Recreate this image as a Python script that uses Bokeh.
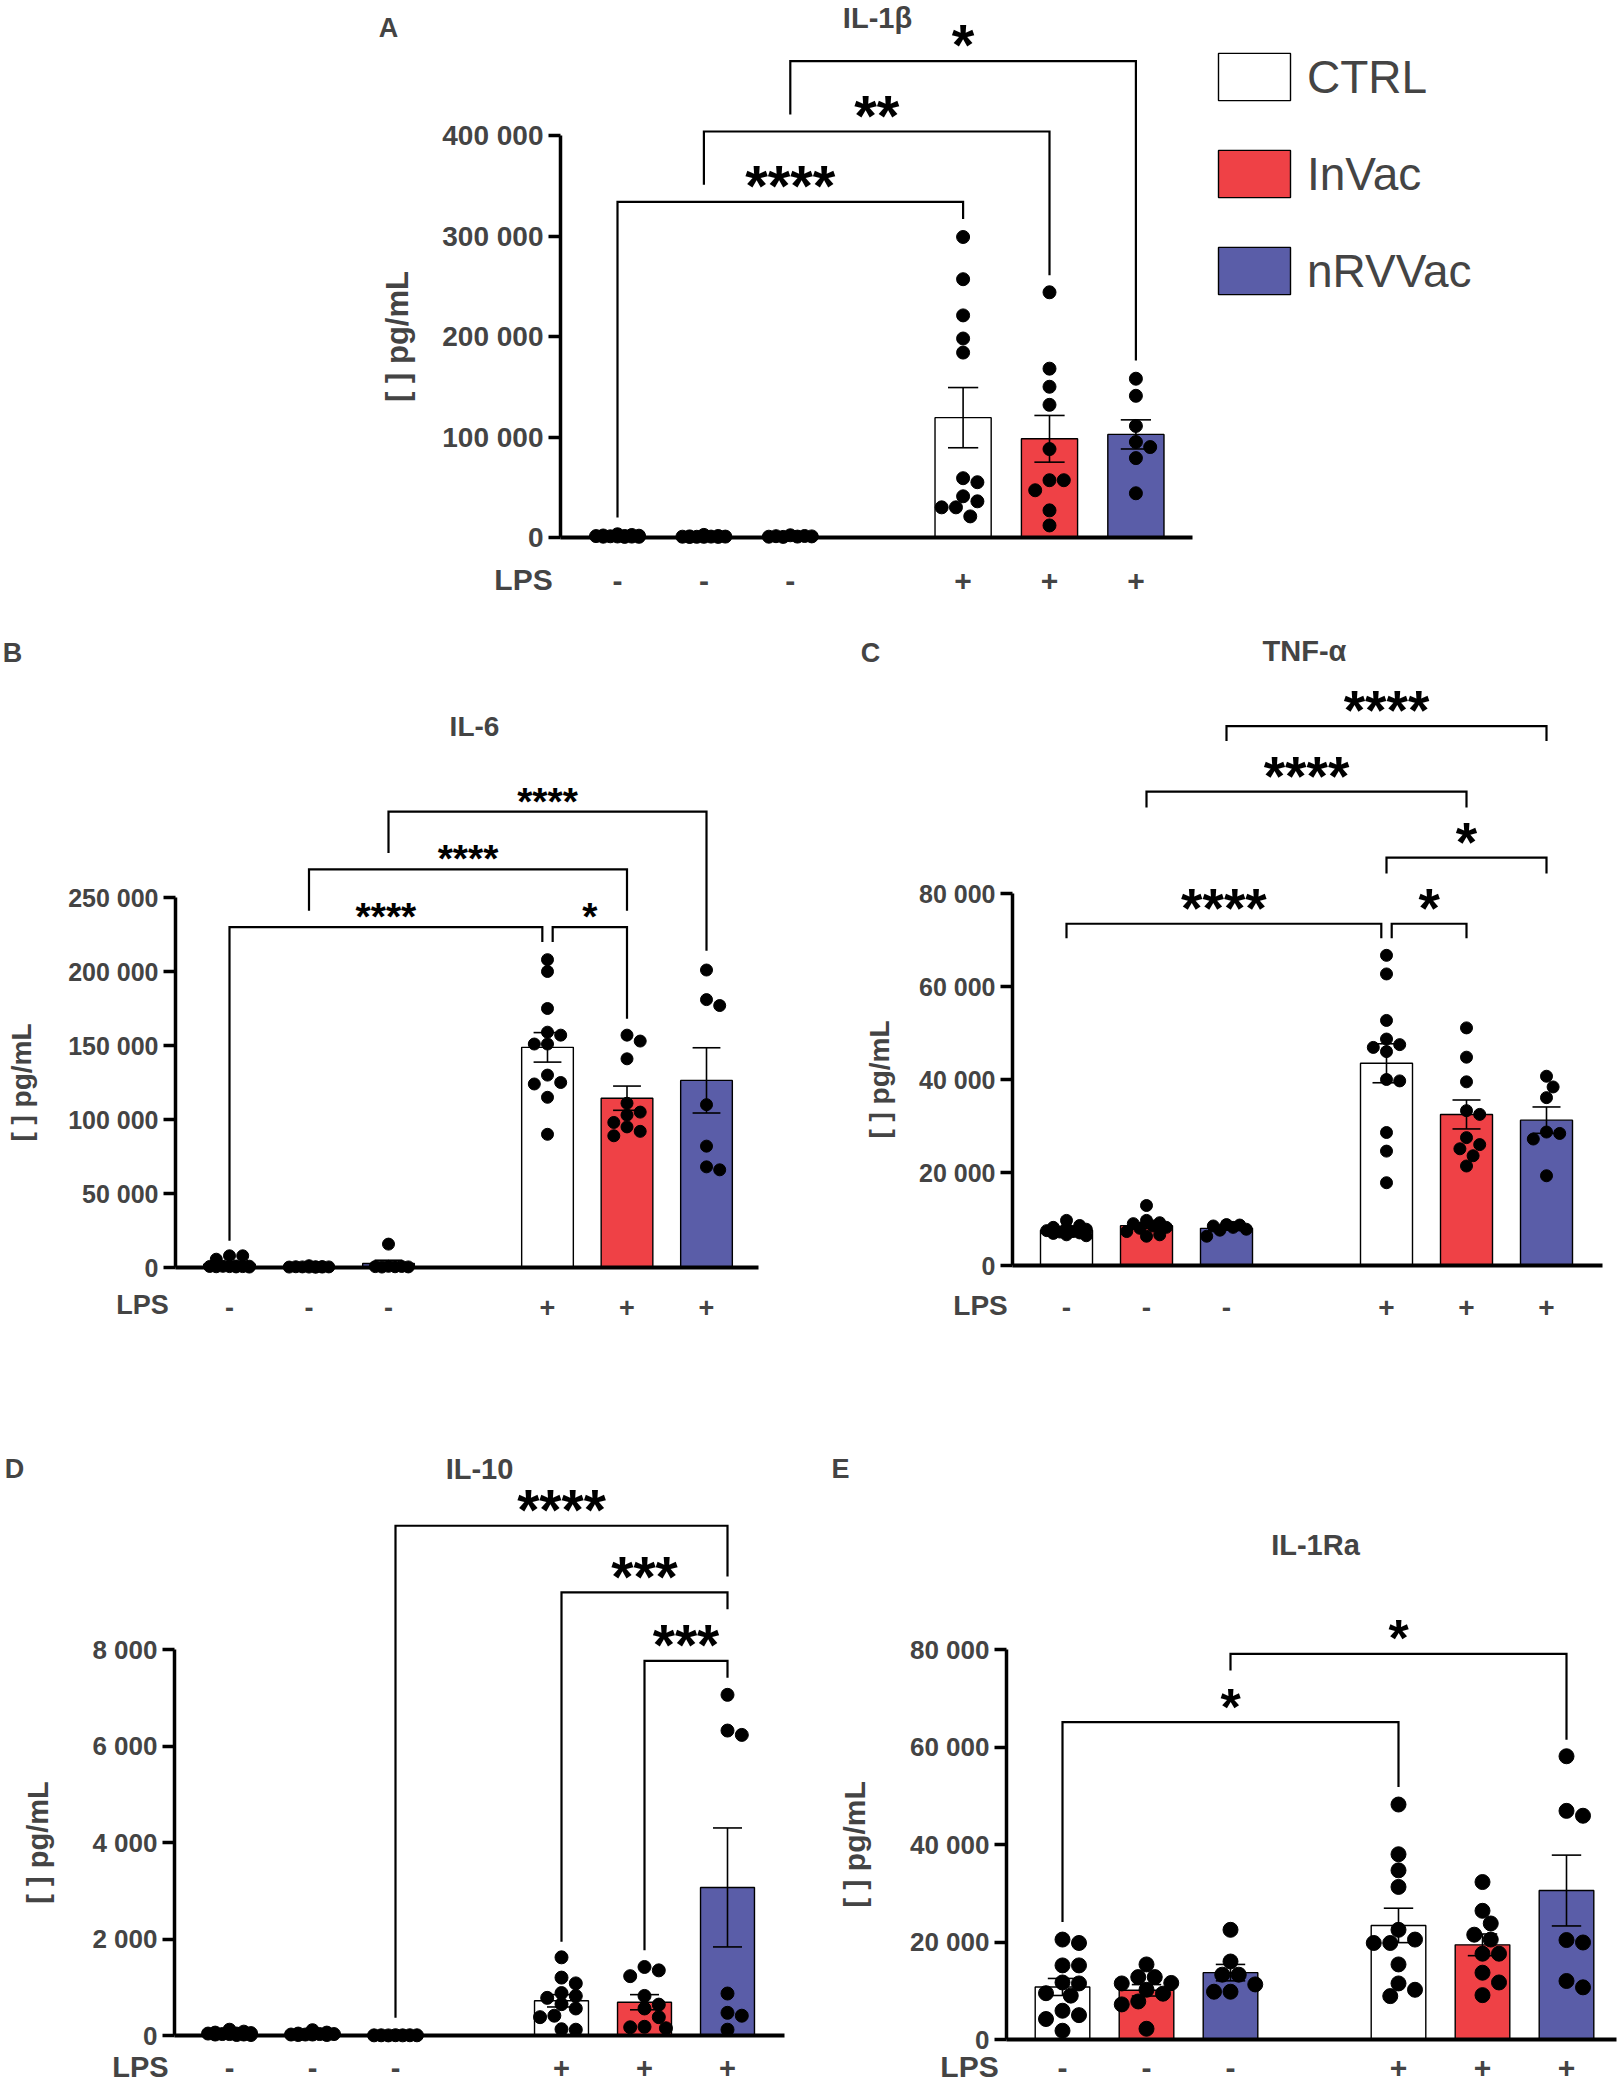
import numpy as np
from bokeh.plotting import figure
from bokeh.models import FixedTicker, Label, Legend, LegendItem, Spacer
from bokeh.layouts import column, row
from bokeh.embed import file_html
from bokeh.resources import INLINE
from bokeh.core.properties import value

# ---------------- data (pg/mL) ----------------
TREATMENTS = ["CTRL", "InVac", "nRVVac"]
SLOTS_NEG = [1, 2, 3]
SLOTS_POS = [5, 6, 7]
LPS_TICKS = [1, 2, 3, 5, 6, 7]
LPS_SIGNS = ["-", "-", "-", "+", "+", "+"]

# IL-1beta
il1b_ctrl_neg = [3200, 2500, 1800, 1500, 1200, 2000, 900, 1000, 600, 1400, 800, 700]
il1b_invac_neg = [2600, 1500, 900, 700, 1100, 600, 800, 500, 900, 700]
il1b_nrv_neg = [1500, 2200, 900, 1300, 800, 600, 1100]
il1b_ctrl_pos = [299000, 257000, 221000, 198000, 184000, 59000, 55000, 41000, 36000, 30000, 30000, 21000]
il1b_invac_pos = [244000, 168000, 150000, 132000, 88000, 57000, 57000, 47000, 27000, 12000]
il1b_nrv_pos = [158000, 141000, 111000, 95000, 90000, 79000, 44000]
il1b_yticks = [0, 100000, 200000, 300000, 400000]
il1b_ylabels = ["0", "100 000", "200 000", "300 000", "400 000"]
# (left slot, left nudge, right slot, right nudge, top, left-leg end, right-leg end, label)
il1b_brackets = [(1, 0, 5, 0, 334000, 20000, 317000, "****"),
                 (2, 0, 6, 0, 404000, 351000, 261000, "**"),
                 (3, 0, 7, 0, 474000, 421000, 176000, "*")]

# IL-6
il6_ctrl_neg = [5600, 7900, 7900, 800, 600, 500, 1000, 400, 700, 300, 900, 600]
il6_invac_neg = [1200, 500, 300, 400, 600, 200, 300, 500, 400, 300]
il6_nrv_neg = [15800, 500, 800, 300, 600, 400, 700]
il6_ctrl_pos = [208000, 200000, 175000, 159000, 157000, 151000, 151000, 125000, 130000, 124000, 115000, 90000]
il6_invac_pos = [157000, 153000, 141000, 111000, 98000, 105000, 103000, 89000, 95000, 92000]
il6_nrv_pos = [201000, 177000, 181000, 110000, 82000, 66000, 68000]
il6_yticks = [0, 50000, 100000, 150000, 200000, 250000]
il6_ylabels = ["0", "50 000", "100 000", "150 000", "200 000", "250 000"]
il6_brackets = [(1, 0, 5, -0.065, 230000, 18000, 220000, "****"),
                (5, 0.065, 6, 0, 230000, 220000, 168000, "*"),
                (2, 0, 6, 0, 269000, 241000, 241000, "****"),
                (3, 0, 7, 0, 308000, 280000, 214000, "****")]

# TNF-alpha
tnf_ctrl_neg = [7000, 8600, 9700, 7800, 6400, 8000, 7200, 6600, 7500, 8200, 6900, 7300]
tnf_invac_neg = [12900, 9700, 9000, 8500, 8000, 6600, 6300, 8200, 9200, 7300]
tnf_nrv_neg = [8700, 8500, 8800, 6300, 8200, 7800, 7600]
tnf_ctrl_pos = [66700, 62700, 52700, 47500, 48700, 46900, 46000, 40000, 39700, 28600, 24600, 17800]
tnf_invac_pos = [51100, 44800, 39500, 33300, 32500, 27500, 26000, 25100, 23600, 21400]
tnf_nrv_pos = [38400, 40700, 36100, 28700, 27200, 28400, 19300]
tnf_yticks = [0, 20000, 40000, 60000, 80000]
tnf_ylabels = ["0", "20 000", "40 000", "60 000", "80 000"]
tnf_brackets = [(1, 0, 5, -0.065, 73500, 70400, 70400, "****"),
                (5, 0.065, 6, 0, 73500, 70400, 70400, "*"),
                (5, 0, 7, 0, 87700, 84300, 84300, "*"),
                (2, 0, 6, 0, 101900, 98500, 98500, "****"),
                (3, 0, 7, 0, 116000, 112800, 112800, "****")]

# IL-10
il10_ctrl_neg = [120, 80, 60, 40, 30, 20, 50, 10, 30, 20, 40, 10]
il10_invac_neg = [110, 60, 40, 20, 30, 10, 20, 30, 10, 20]
il10_nrv_neg = [4, 6, 3, 5, 2, 4, 3]
il10_ctrl_pos = [1620, 1200, 1080, 880, 820, 780, 650, 560, 410, 380, 130, 120]
il10_invac_pos = [1420, 1350, 1230, 820, 640, 560, 380, 180, 170, 150]
il10_nrv_pos = [7060, 6320, 6230, 870, 470, 410, 120]
il10_yticks = [0, 2000, 4000, 6000, 8000]
il10_ylabels = ["0", "2 000", "4 000", "6 000", "8 000"]
il10_brackets = [(3, 0, 7, 0, 10565, 368, 9515, "****"),
                 (5, 0, 7, 0, 9182, 1943, 8832, "***"),
                 (6, 0, 7, 0, 7764, 1768, 7414, "***")]

# IL-1Ra
il1ra_ctrl_neg = [20500, 19800, 15200, 15200, 11700, 11500, 9500, 9000, 5900, 5000, 4200, 1800]
il1ra_invac_neg = [15400, 12800, 12800, 11600, 11500, 10200, 9400, 7800, 7200, 2200]
il1ra_nrv_neg = [22500, 16000, 13300, 13300, 11300, 9800, 9800]
il1ra_ctrl_pos = [48200, 38000, 34700, 31300, 22500, 20500, 19800, 19800, 15400, 11500, 10200, 8900]
il1ra_invac_pos = [32300, 26400, 23800, 21500, 20500, 17600, 17600, 13700, 11700, 9100]
il1ra_nrv_pos = [58100, 46900, 45900, 20400, 19900, 12000, 10700]
il1ra_yticks = [0, 20000, 40000, 60000, 80000]
il1ra_ylabels = ["0", "20 000", "40 000", "60 000", "80 000"]
il1ra_brackets = [(1, 0, 5, 0, 65100, 24100, 51800, "*"),
                  (3, 0, 7, 0, 79100, 75700, 61500, "*")]

FILL = {"CTRL": "#FFFFFF", "InVac": "#EF4146", "nRVVac": "#5A5DA8"}
FONT = "Liberation Sans"
BAR_W = 0.65
CAP_W = 0.35


def swarm(vals, ppv, unit, diam, max_off):
    """Simple beeswarm offsets (in x units) so dots do not pile up."""
    vals = np.asarray(vals, dtype=float)
    order = np.argsort(-vals, kind="stable")
    step = diam * 0.55
    nmax = int(max_off // step)
    cands = [0.0]
    for k in range(1, nmax + 1):
        cands += [k * step, -k * step]
    placed = []
    offs = np.zeros(len(vals))
    for i in order:
        ypx = vals[i] * ppv
        chosen, best_c, best_d = None, 0.0, -1.0
        for c in cands:
            dmin = min([np.hypot(c - px, ypx - py) for px, py in placed], default=1e9)
            if dmin >= diam * 0.95:
                chosen = c
                break
            if dmin > best_d:
                best_d, best_c = dmin, c
        if chosen is None:
            chosen = best_c
        placed.append((chosen, ypx))
        offs[i] = chosen / unit
    return offs


def make_panel(cfg):
    g = cfg["geom"]
    cl, ct, cr, cb = g["canvas"]
    pos0, unit, base, ppv = g["pos0"], g["unit"], g["base"], g["ppv"]
    px2x = lambda px: (px - pos0) / unit
    px2y = lambda py: (base - py) / ppv
    fs_txt = g["fs"]

    p = figure(width=cr - cl, height=cb - ct,
               x_range=(px2x(cl), px2x(cr)), y_range=(px2y(cb), px2y(ct)),
               output_backend="svg", toolbar_location=None, title=None,
               min_border_left=0, min_border_right=0, min_border_top=0, min_border_bottom=0)
    p.grid.visible = False
    p.outline_line_color = None
    p.background_fill_color = "white"
    p.border_fill_color = "white"

    renderers = {}
    diam = g["dot"]
    pts = []
    for ti, t in enumerate(TREATMENTS):
        neg, pos = cfg["values"][t]
        xs = np.array([SLOTS_NEG[ti], SLOTS_POS[ti]], dtype=float)
        groups = [np.asarray(neg, float), np.asarray(pos, float)]
        means = np.array([v.mean() for v in groups])
        sems = np.array([v.std(ddof=1) / np.sqrt(len(v)) for v in groups])
        r = p.vbar(x=xs, top=means, bottom=0, width=BAR_W, fill_color=FILL[t],
                   line_color="black", line_width=1.4)
        renderers[t] = r
        lo, hi = means - sems, means + sems
        p.segment(x0=xs, y0=lo, x1=xs, y1=hi, line_color="black", line_width=1.6)
        p.segment(x0=xs - CAP_W / 2, y0=hi, x1=xs + CAP_W / 2, y1=hi, line_color="black", line_width=1.6)
        p.segment(x0=xs - CAP_W / 2, y0=lo, x1=xs + CAP_W / 2, y1=lo, line_color="black", line_width=1.6)
        pts.append((xs, groups))

    # significance brackets
    bx, by, sx, sy, st = [], [], [], [], []
    for (l, ln, r_, rn, top, lb, rb, lab) in cfg["brackets"]:
        xl, xr = l + ln, r_ + rn
        bx.append([xl, xl, xr, xr])
        by.append([lb, top, top, rb])
        sx.append((xl + xr) / 2)
        sy.append(top)
        st.append(lab)
    p.multi_line(xs=bx, ys=by, line_color="black", line_width=2.2, line_join="miter")
    fs = g["star_fs"]
    p.text(x=sx, y=sy, text=st, text_font=value(FONT), text_font_style="bold",
           text_font_size=f"{fs}px", text_align="center", text_baseline="alphabetic",
           y_offset=0.22 * fs - g["star_gap"], text_color="black")

    # individual points
    for xs, groups in pts:
        for x, v in zip(xs, groups):
            off = swarm(v, ppv, unit, diam, g["spread"])
            p.scatter(x=x + off, y=v, size=diam, marker="circle",
                      fill_color="black", line_color="black")

    # y axis, pinned at the left end of the baseline
    x_axis_start = px2x(g["ax"])
    ya = p.yaxis[0]
    ya.fixed_location = x_axis_start
    ya.ticker = FixedTicker(ticks=cfg["yticks"])
    ya.major_label_overrides = dict(zip(cfg["yticks"], cfg["ylabels"]))
    ya.bounds = (0, cfg["yticks"][-1])
    ya.axis_line_width = 3.5
    ya.major_tick_line_width = 3.5
    ya.major_tick_out = 12
    ya.major_tick_in = 0
    ya.minor_tick_line_color = None
    ya.major_label_standoff = 5
    ya.major_label_text_font = FONT
    ya.major_label_text_font_style = "bold"
    ya.major_label_text_font_size = f"{g['tick_fs']}px"
    ya.axis_label = "[ ] pg/mL"
    ya.axis_label_text_font = FONT
    ya.axis_label_text_font_style = "bold"
    ya.axis_label_text_font_size = f"{g['ylab_fs']}px"
    ya.axis_label_standoff = g["ylab_standoff"]

    # x axis = the baseline at 0, with the LPS -/+ marks
    xa = p.xaxis[0]
    xa.fixed_location = 0
    xa.bounds = (x_axis_start, px2x(g["axis_end"]))
    xa.ticker = FixedTicker(ticks=LPS_TICKS)
    xa.major_label_overrides = dict(zip(LPS_TICKS, LPS_SIGNS))
    xa.axis_line_width = 4
    xa.axis_line_cap = "butt"
    xa.major_tick_line_color = None
    xa.minor_tick_line_color = None
    xa.major_label_standoff = int(round(g["lps_y"] - 0.5 * fs_txt - base))
    xa.major_label_text_font = FONT
    xa.major_label_text_font_style = "bold"
    xa.major_label_text_font_size = f"{fs_txt}px"

    # texts
    p.add_layout(Label(x=px2x(g["lps_x"]), y=px2y(g["lps_y"]), text="LPS", text_font=FONT,
                       text_font_style="bold", text_font_size=f"{fs_txt}px", text_align="center",
                       text_baseline="middle"))
    p.add_layout(Label(x=px2x(g["title"][0]), y=px2y(g["title"][1]), text=cfg["title"], text_font=FONT,
                       text_font_style="bold", text_font_size=f"{g['title_fs']}px", text_align="center",
                       text_baseline="middle"))
    p.add_layout(Label(x=px2x(g["letter"][0]), y=px2y(g["letter"][1]), text=cfg["letter"], text_font=FONT,
                       text_font_style="bold", text_font_size="27px", text_align="center",
                       text_baseline="middle"))
    return p, renderers


panels = {
    "A": dict(title="IL-1β", letter="A",
              values={"CTRL": (il1b_ctrl_neg, il1b_ctrl_pos), "InVac": (il1b_invac_neg, il1b_invac_pos),
                      "nRVVac": (il1b_nrv_neg, il1b_nrv_pos)},
              yticks=il1b_yticks, ylabels=il1b_ylabels, brackets=il1b_brackets,
              geom=dict(canvas=(370, 0, 1490, 600), ax=560, pos0=530.6, unit=86.4,
                        base=537, ppv=100.5 / 100000, axis_end=1192, dot=13, spread=27, star_fs=58,
                        star_gap=29, tick_fs=28, ylab_fs=31, ylab_standoff=24, fs=30,
                        lps_x=523, lps_y=579, title=(877, 17), title_fs=29, letter=(388, 27))),
    "B": dict(title="IL-6", letter="B",
              values={"CTRL": (il6_ctrl_neg, il6_ctrl_pos), "InVac": (il6_invac_neg, il6_invac_pos),
                      "nRVVac": (il6_nrv_neg, il6_nrv_pos)},
              yticks=il6_yticks, ylabels=il6_ylabels, brackets=il6_brackets,
              geom=dict(canvas=(0, 600, 830, 1325), ax=175, pos0=149.5, unit=79.5,
                        base=1267, ppv=370 / 250000, axis_end=758, dot=12, spread=25, star_fs=39,
                        star_gap=19, tick_fs=25, ylab_fs=28, ylab_standoff=28, fs=27,
                        lps_x=142, lps_y=1304, title=(474, 726), title_fs=28, letter=(12, 652))),
    "C": dict(title="TNF-α", letter="C",
              values={"CTRL": (tnf_ctrl_neg, tnf_ctrl_pos), "InVac": (tnf_invac_neg, tnf_invac_pos),
                      "nRVVac": (tnf_nrv_neg, tnf_nrv_pos)},
              yticks=tnf_yticks, ylabels=tnf_ylabels, brackets=tnf_brackets,
              geom=dict(canvas=(830, 600, 1620, 1325), ax=1012, pos0=986, unit=80,
                        base=1265, ppv=372 / 80000, axis_end=1602, dot=12, spread=25, star_fs=55,
                        star_gap=28, tick_fs=25, ylab_fs=28, ylab_standoff=21, fs=28,
                        lps_x=980, lps_y=1305, title=(1304, 650), title_fs=29, letter=(870, 652))),
    "D": dict(title="IL-10", letter="D",
              values={"CTRL": (il10_ctrl_neg, il10_ctrl_pos), "InVac": (il10_invac_neg, il10_invac_pos),
                      "nRVVac": (il10_nrv_neg, il10_nrv_pos)},
              yticks=il10_yticks, ylabels=il10_ylabels, brackets=il10_brackets,
              geom=dict(canvas=(0, 1325, 830, 2090), ax=174, pos0=146, unit=83,
                        base=2035, ppv=386 / 8000, axis_end=784, dot=13, spread=27, star_fs=57,
                        star_gap=28, tick_fs=26, ylab_fs=29, ylab_standoff=35, fs=29,
                        lps_x=140, lps_y=2066, title=(479, 1468), title_fs=29, letter=(14, 1468))),
    "E": dict(title="IL-1Ra", letter="E",
              values={"CTRL": (il1ra_ctrl_neg, il1ra_ctrl_pos), "InVac": (il1ra_invac_neg, il1ra_invac_pos),
                      "nRVVac": (il1ra_nrv_neg, il1ra_nrv_pos)},
              yticks=il1ra_yticks, ylabels=il1ra_ylabels, brackets=il1ra_brackets,
              geom=dict(canvas=(830, 1325, 1620, 2090), ax=1006, pos0=978, unit=84,
                        base=2039, ppv=390 / 80000, axis_end=1616, dot=15, spread=29, star_fs=52,
                        star_gap=27, tick_fs=26, ylab_fs=30, ylab_standoff=36, fs=30,
                        lps_x=969, lps_y=2066, title=(1315, 1544), title_fs=29, letter=(840, 1468))),
}

figs = {}
a_rends = None
for key, cfg in panels.items():
    figs[key], rends = make_panel(cfg)
    if key == "A":
        a_rends = rends

# legend inside panel A, to the right of the bars
cA = panels["A"]["geom"]["canvas"]
leg = Legend(items=[LegendItem(label=t, renderers=[a_rends[t]]) for t in TREATMENTS],
             location=(1209 - cA[0], cA[3] - 300),
             glyph_width=90, glyph_height=59, label_height=59, label_standoff=8, spacing=38,
             padding=0, margin=0, border_line_color=None, background_fill_alpha=0,
             label_text_font=FONT, label_text_font_size="46px")
figs["A"].add_layout(leg)

layout = column(
    row(Spacer(width=370, height=600), figs["A"]),
    row(figs["B"], figs["C"]),
    row(figs["D"], figs["E"]),
)

open("out.html", "w").write(file_html(layout, INLINE))
